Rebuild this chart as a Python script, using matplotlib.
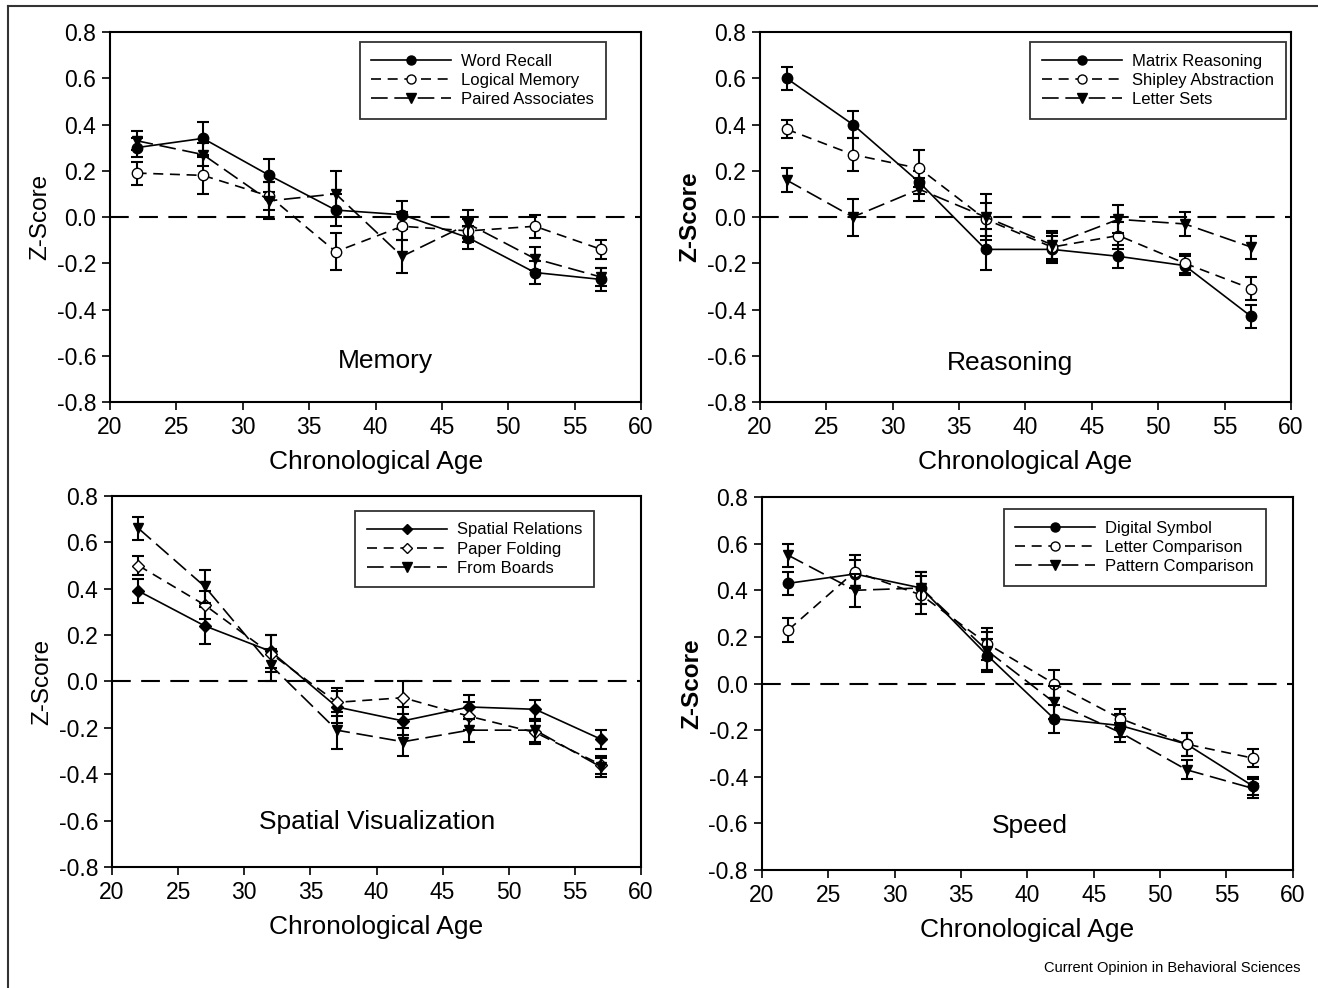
import matplotlib
matplotlib.use("Agg")
import matplotlib.pyplot as plt
from matplotlib.lines import Line2D

plt.rcParams['font.family'] = ['Liberation Sans', 'DejaVu Sans']

ages = [22, 27, 32, 37, 42, 47, 52, 57]

# Memory
word_recall = [0.30, 0.34, 0.18, 0.03, 0.01, -0.09, -0.24, -0.27]
word_recall_err = [0.04, 0.07, 0.07, 0.07, 0.06, 0.05, 0.05, 0.05]
logical_memory = [0.19, 0.18, 0.09, -0.15, -0.04, -0.06, -0.04, -0.14]
logical_memory_err = [0.05, 0.08, 0.06, 0.08, 0.06, 0.05, 0.05, 0.04]
paired_assoc = [0.33, 0.27, 0.07, 0.10, -0.17, -0.03, -0.18, -0.26]
paired_assoc_err = [0.04, 0.05, 0.08, 0.10, 0.07, 0.06, 0.05, 0.04]

# Reasoning
matrix_reasoning = [0.60, 0.40, 0.15, -0.14, -0.14, -0.17, -0.21, -0.43]
matrix_reasoning_err = [0.05, 0.06, 0.05, 0.09, 0.06, 0.05, 0.04, 0.05]
shipley = [0.38, 0.27, 0.21, -0.01, -0.13, -0.08, -0.20, -0.31]
shipley_err = [0.04, 0.07, 0.08, 0.07, 0.06, 0.06, 0.04, 0.05]
letter_sets = [0.16, 0.00, 0.12, 0.00, -0.12, -0.01, -0.03, -0.13]
letter_sets_err = [0.05, 0.08, 0.05, 0.10, 0.06, 0.06, 0.05, 0.05]

# Spatial Visualization
spatial_relations = [0.39, 0.24, 0.13, -0.11, -0.17, -0.11, -0.12, -0.25]
spatial_relations_err = [0.05, 0.08, 0.07, 0.07, 0.06, 0.05, 0.04, 0.04]
paper_folding = [0.50, 0.33, 0.12, -0.09, -0.07, -0.15, -0.22, -0.36]
paper_folding_err = [0.04, 0.06, 0.08, 0.06, 0.07, 0.06, 0.05, 0.04]
form_boards = [0.66, 0.41, 0.07, -0.21, -0.26, -0.21, -0.21, -0.37]
form_boards_err = [0.05, 0.07, 0.07, 0.08, 0.06, 0.05, 0.05, 0.04]

# Speed
digit_symbol = [0.43, 0.47, 0.41, 0.12, -0.15, -0.18, -0.26, -0.44]
digit_symbol_err = [0.05, 0.06, 0.07, 0.07, 0.06, 0.05, 0.05, 0.04]
letter_comp = [0.23, 0.48, 0.38, 0.17, 0.00, -0.15, -0.26, -0.32]
letter_comp_err = [0.05, 0.07, 0.08, 0.07, 0.06, 0.04, 0.05, 0.04]
pattern_comp = [0.55, 0.40, 0.41, 0.14, -0.08, -0.21, -0.37, -0.45]
pattern_comp_err = [0.05, 0.07, 0.07, 0.08, 0.07, 0.04, 0.04, 0.04]

styles = [
    dict(ls='-', marker='o', mfc='black'),
    dict(ls=(0, (6, 4)), marker='o', mfc='white'),
    dict(ls=(0, (10, 4)), marker='v', mfc='black'),
]

panels = [
    ("Memory", [0.0835, 0.5931, 0.4029, 0.3745], False, (385, 361),
     ["Word Recall", "Logical Memory", "Paired Associates"],
     [word_recall, logical_memory, paired_assoc],
     [word_recall_err, logical_memory_err, paired_assoc_err], 'o', (0.934, 0.973)),
    ("Reasoning", [0.5766, 0.5931, 0.4029, 0.3745], True, (1010, 363),
     ["Matrix Reasoning", "Shipley Abstraction", "Letter Sets"],
     [matrix_reasoning, shipley, letter_sets],
     [matrix_reasoning_err, shipley_err, letter_sets_err], 'o', (0.99, 0.973)),
    ("Spatial Visualization", [0.085, 0.1225, 0.4014, 0.3755], False, (377, 822),
     ["Spatial Relations", "Paper Folding", "From Boards"],
     [spatial_relations, paper_folding, form_boards],
     [spatial_relations_err, paper_folding_err, form_boards_err], 'D', (0.911, 0.96)),
    ("Speed", [0.578, 0.1194, 0.4029, 0.3775], True, (1030, 826),
     ["Digital Symbol", "Letter Comparison", "Pattern Comparison"],
     [digit_symbol, letter_comp, pattern_comp],
     [digit_symbol_err, letter_comp_err, pattern_comp_err], 'o', (0.949, 0.968)),
]

fig = plt.figure(figsize=(13.18, 9.88), dpi=100)

# outer frame
fig.add_artist(Line2D([8 / 1318, 8 / 1318], [0, 1 - 6 / 988], color='#333333', lw=1.5))
fig.add_artist(Line2D([8 / 1318, 1], [1 - 6 / 988, 1 - 6 / 988], color='#333333', lw=1.5))

for title, rect, bold_y, tpos, names, vals, errs, m0, legpos in panels:
    ax = fig.add_axes(rect)
    ax.axhline(0, color='black', lw=1.5, ls=(0, (9, 5)), zorder=1)
    handles = []
    for i in range(3):
        st = styles[i]
        mk = st['marker'] if i != 0 else m0
        if title == "Spatial Visualization" and i == 1:
            mk = 'D'
        ms = 6.5 if mk == 'D' else 7.5
        ax.errorbar(ages, vals[i], yerr=errs[i], color='black', ls=st['ls'], lw=1.2,
                    marker=mk, mfc=st['mfc'], mec='black', ms=ms,
                    elinewidth=1.5, capsize=4, capthick=1.5, zorder=3 + i)
        handles.append(Line2D([], [], color='black', ls=st['ls'], lw=1.2, marker=mk,
                              mfc=st['mfc'], mec='black', ms=ms - 1))
    ax.set_xlim(20, 60)
    ax.set_ylim(-0.8, 0.8)
    ax.set_xticks(range(20, 61, 5))
    ax.set_yticks([-0.8, -0.6, -0.4, -0.2, 0.0, 0.2, 0.4, 0.6, 0.8])
    ax.set_yticklabels(['%.1f' % v for v in ax.get_yticks()])
    ax.tick_params(direction='out', length=6, width=1.2, labelsize=16.5, pad=4)
    for sp in ax.spines.values():
        sp.set_linewidth(1.5)
    ax.set_xlabel("Chronological Age", fontsize=19, labelpad=8)
    ax.set_ylabel("Z-Score", fontsize=17.5, fontweight='bold' if bold_y else 'normal', labelpad=4)
    fig.text(tpos[0] / 1318, 1 - tpos[1] / 988, title, fontsize=19, ha='center', va='center')
    leg = ax.legend(handles, names, loc='upper right', bbox_to_anchor=legpos,
                    fontsize=12, handlelength=4.8, frameon=True, fancybox=False,
                    edgecolor='black', borderpad=0.7, labelspacing=0.25, handletextpad=0.6,
                    borderaxespad=0)
    leg.get_frame().set_linewidth(1.3)

fig.text(1300 / 1318, 1 - 968 / 988, "Current Opinion in Behavioral Sciences",
         fontsize=10.5, ha='right', va='center')

fig.savefig("out.png", dpi=100)
